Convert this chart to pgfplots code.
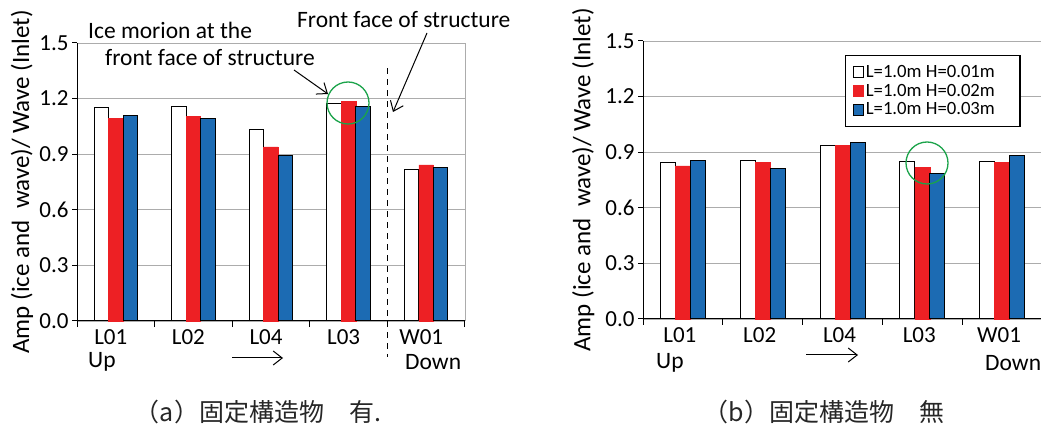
\documentclass[border=0pt]{standalone}
\usepackage{fontspec}
\setmainfont{Carlito}
\newfontfamily\cjk{Noto Sans CJK JP}
\usepackage{pgfplots}
\usepackage{pgfplotstable}
\pgfplotsset{compat=1.18}
\usetikzlibrary{arrows.meta}
\definecolor{barred}{HTML}{ED2024}
\definecolor{barblue}{HTML}{1C6BB3}
\definecolor{circgreen}{HTML}{1BA34A}

\pgfplotstableread{
x w r b
0 1.152 1.093 1.109
1 1.158 1.106 1.095
2 1.034 0.940 0.895
3 1.174 1.183 1.156
4 0.818 0.843 0.828
}\dataA

\pgfplotstableread{
x w r b
0 0.844 0.826 0.853
1 0.853 0.844 0.812
2 0.934 0.936 0.952
3 0.848 0.819 0.783
4 0.851 0.846 0.882
}\dataB

\pgfplotsset{
  mystyle/.style={
    scale only axis, height=278pt,
    ybar=0pt, ymin=0, ymax=1.5, xmin=-0.5, xmax=4.5,
    axis lines=left, axis line style={-, line width=1pt, black},
    ytick={0,0.3,0.6,0.9,1.2,1.5},
    ymajorgrids, grid style={gray!65, line width=0.9pt},
    y tick label style={/pgf/number format/.cd, fixed, fixed zerofill, precision=1, assume math mode=true, /tikz/.cd},
    tick label style={font=\fontsize{23}{27}\selectfont, black},
    tick align=outside, major tick length=5pt, minor tick length=6pt,
    tick style={black, line width=1pt},
    xtick={0,1,2,3,4}, xticklabels={L01,L02,L04,L03,W01},
    x tick style={draw=none},
    minor xtick={-0.5,0.5,1.5,2.5,3.5,4.5},
    minor x tick style={draw=black, line width=1pt},
    ylabel={Amp (ice and\ \ wave)/ Wave (Inlet)},
    clip=false,
  },
  whitebar/.style={fill=white, draw=black, line width=1pt},
  redbar/.style={fill=barred, draw=barred, line width=0.5pt},
  bluebar/.style={fill=barblue, draw=black, line width=1pt},
}

\begin{document}
\begin{tikzpicture}
\useasboundingbox (0,0) rectangle (1041pt,423pt);

% ---------------- panel (a)
\begin{axis}[mystyle, at={(77pt,102pt)}, anchor=south west, width=388pt,
  bar width=14.5pt,
  x tick label style={xshift=-5pt},
  ylabel style={font=\fontsize{25}{30}\selectfont, at={(axis description cs:-0.142,0.5)}, anchor=center},
]
\addplot[whitebar] table[x=x,y=w]{\dataA};
\addplot[redbar] table[x=x,y=r]{\dataA};
\addplot[bluebar] table[x=x,y=b]{\dataA};
\draw[gray!65, line width=0.9pt] (rel axis cs:1,0) -- (rel axis cs:1,1);
\draw[black, line width=1pt, dash pattern=on 6pt off 5pt] (axis cs:3.5,1.365) -- (axis cs:3.5,-0.194);
\end{axis}

% ---------------- panel (b)
\begin{axis}[mystyle, at={(643pt,104pt)}, anchor=south west, width=399pt,
  bar width=15pt,
  x tick label style={xshift=-3pt},
  ylabel style={font=\fontsize{25}{30}\selectfont, at={(axis description cs:-0.150,0.5)}, anchor=center},
  legend style={at={(0.506,0.95)}, anchor=north west, draw=black, line width=1.3pt,
    font=\fontsize{18.7}{22}\selectfont, cells={anchor=west}, inner xsep=7pt, inner ysep=8pt,
    row sep=1pt},
  legend image code/.code={\draw[#1, line width=0.8pt] (0pt,-5.5pt) rectangle (10.5pt,5.5pt);},
]
\addplot[whitebar] table[x=x,y=w]{\dataB};
\addplot[redbar] table[x=x,y=r]{\dataB};
\addplot[bluebar] table[x=x,y=b]{\dataB};
\legend{L=1.0m H=0.01m\hspace*{16pt}, L=1.0m H=0.02m\hspace*{16pt}, L=1.0m H=0.03m\hspace*{16pt}}
\end{axis}

% ---------------- annotations
\begin{scope}[font=\fontsize{23.5}{28}\selectfont, inner sep=0pt]
\node[anchor=west] at (88pt,393pt) {Ice morion at the};
\node[anchor=west] at (105pt,365pt) {front face of structure};
\node[anchor=west] at (297pt,403pt) {Front face of structure};
\draw[-{Straight Barb[length=9pt,width=14pt]}, line width=1pt] (294pt,353pt) -- (328pt,329pt);
\draw[-{Straight Barb[length=9pt,width=14pt]}, line width=1pt] (427pt,390pt) -- (393pt,311pt);
\draw[circgreen, line width=1.3pt] (348pt,320pt) circle (21pt);
\draw[circgreen, line width=1.3pt] (927pt,260pt) circle (21pt);
\node[anchor=west] at (88pt,61pt) {Up};
\node[anchor=west] at (405pt,61pt) {Down};
\node[anchor=west] at (656pt,60pt) {Up};
\node[anchor=west] at (985pt,60pt) {Down};
\draw[-{Straight Barb[length=9pt,width=14pt]}, line width=1pt] (232pt,65pt) -- (283pt,65pt);
\draw[-{Straight Barb[length=9pt,width=14pt]}, line width=1pt] (806pt,68pt) -- (858pt,68pt);
\end{scope}
\node[font=\cjk\fontsize{25}{29}\selectfont, text=black!85] at (258pt,11pt) {（a）固定構造物　有.};
\node[font=\cjk\fontsize{25}{29}\selectfont, text=black!85] at (824pt,11pt) {（b）固定構造物　無};
\end{tikzpicture}
\end{document}
